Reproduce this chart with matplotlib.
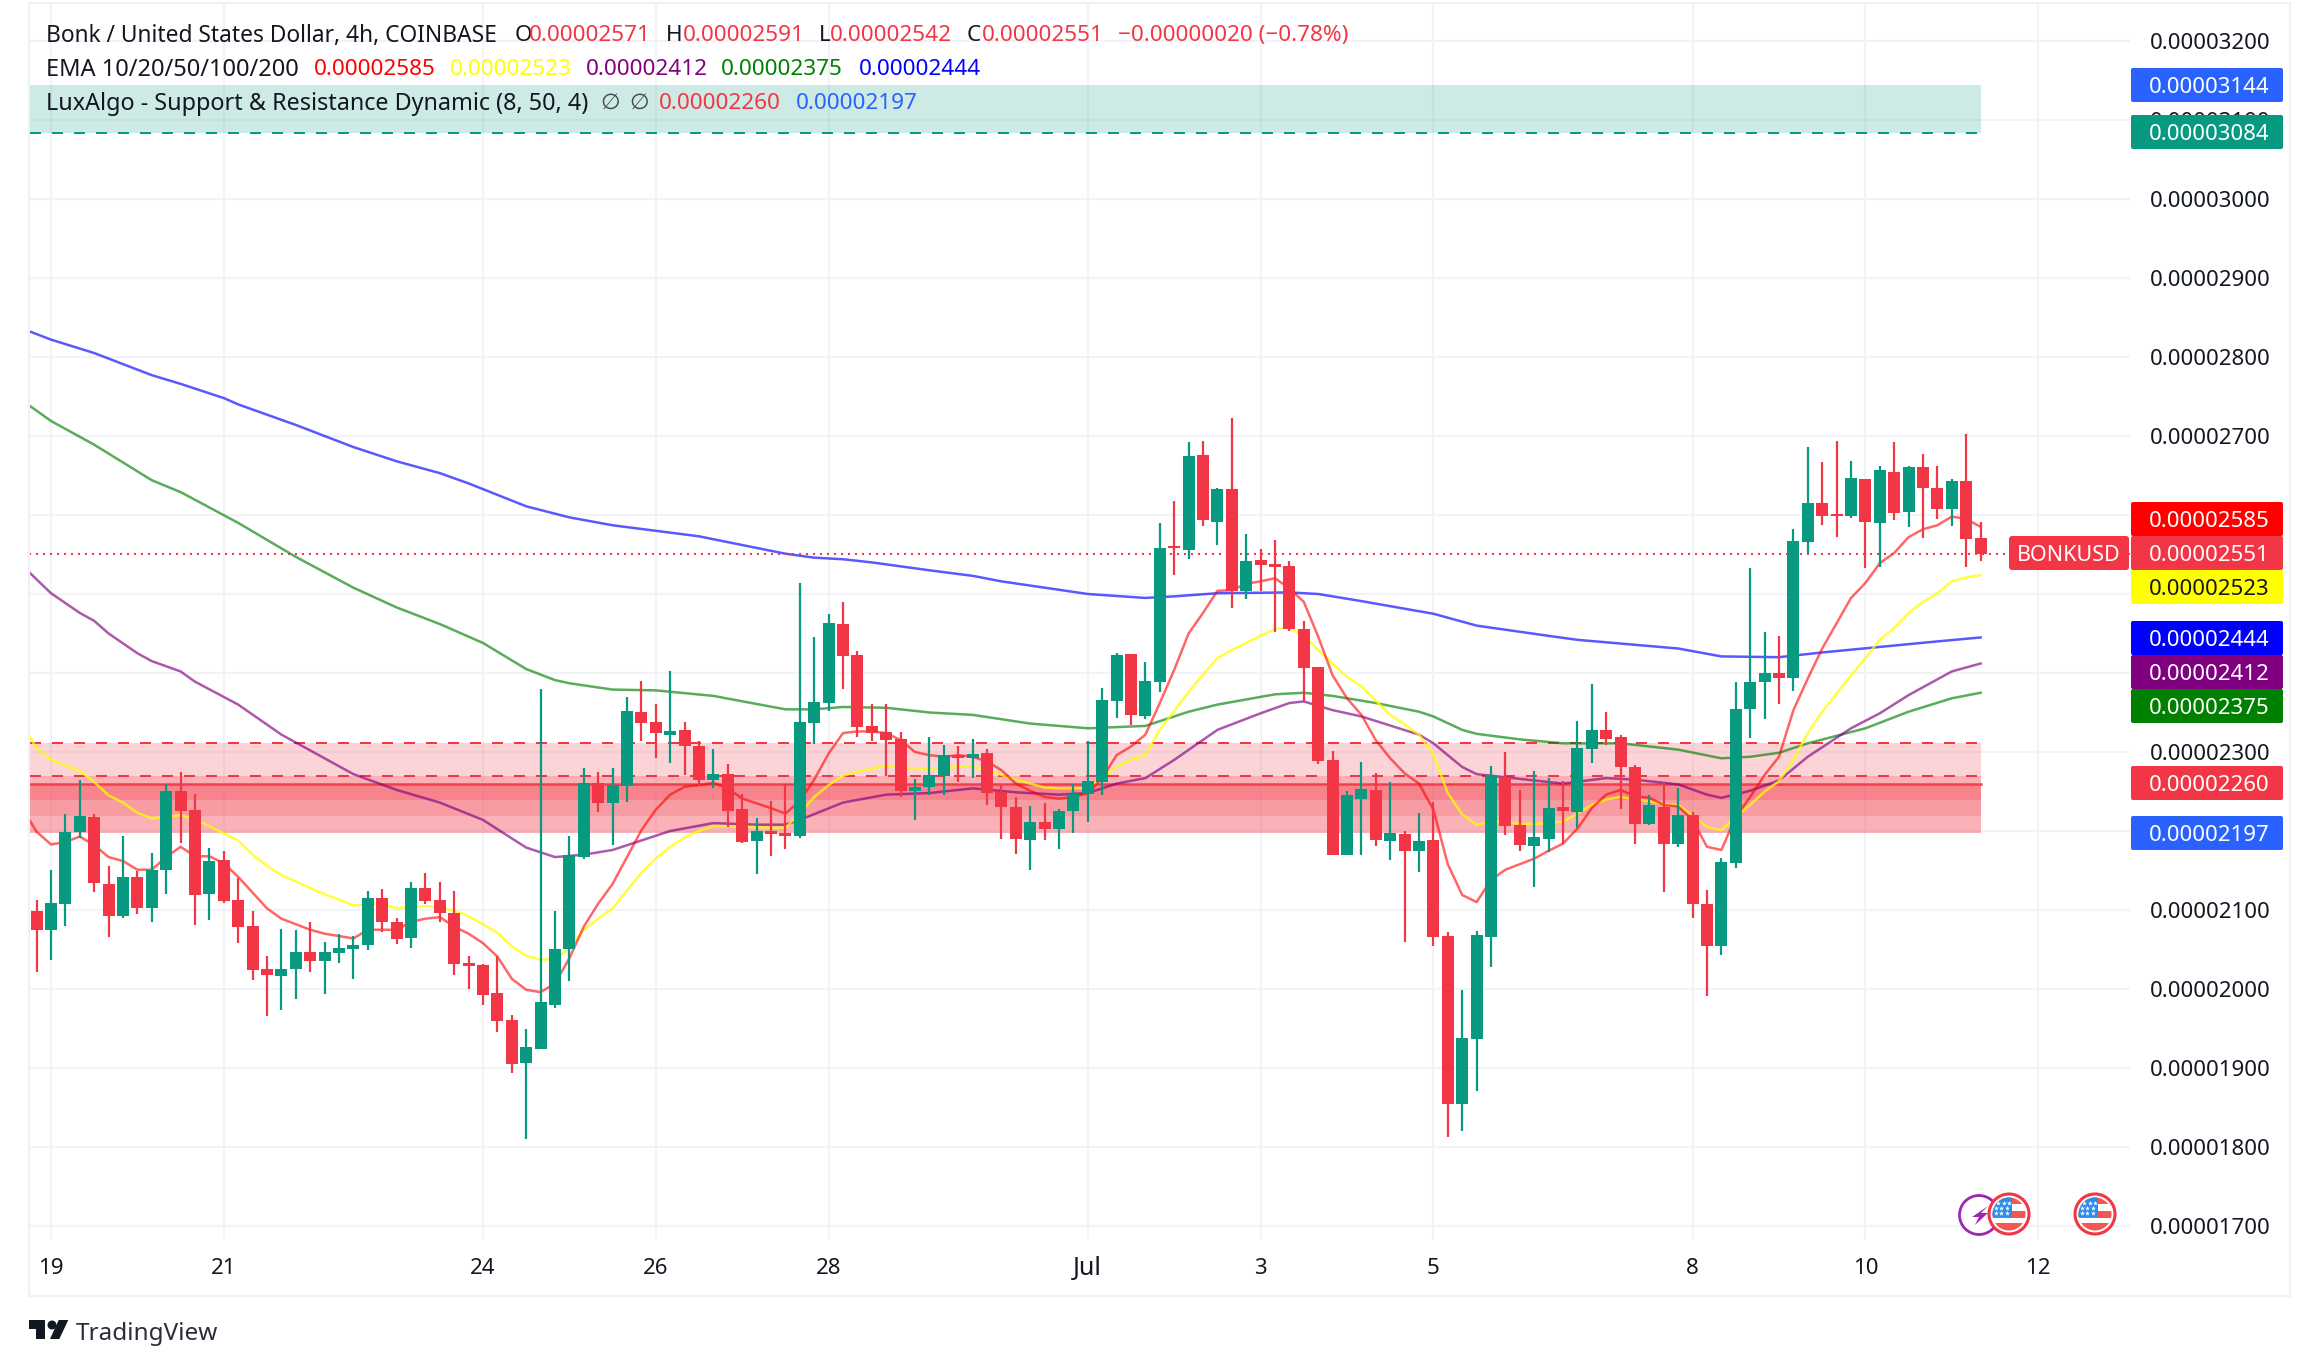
#encoding=utf-8
import numpy as np
import matplotlib
matplotlib.use('Agg')
import matplotlib.pyplot as plt
from matplotlib.patches import Rectangle, Circle, Polygon, FancyBboxPatch

plt.rcParams['font.family'] = ['Noto Sans', 'DejaVu Sans']

# candle values in units of 0.00000001, one per 4h bar, bar 0 = 19 June 00:00
first_bar = -1
opens = [2099, 2075, 2108, 2199, 2218, 2133, 2092, 2142, 2103, 2151,
         2251, 2227, 2120, 2163, 2113, 2080, 2025, 2016, 2025, 2047,
         2035, 2046, 2051, 2056, 2115, 2085, 2065, 2128, 2113, 2096,
         2033, 2030, 1995, 1961, 1906, 1924, 1980, 2051, 2167, 2261,
         2235, 2257, 2351, 2338, 2321, 2328, 2308, 2265, 2272, 2228,
         2187, 2200, 2197, 2194, 2337, 2362, 2462, 2423, 2333, 2325,
         2316, 2251, 2256, 2270, 2296, 2292, 2299, 2249, 2230, 2189,
         2212, 2202, 2225, 2247, 2262, 2365, 2424, 2346, 2389, 2561,
         2556, 2676, 2591, 2633, 2504, 2543, 2538, 2535, 2456, 2408,
         2290, 2170, 2241, 2252, 2187, 2196, 2175, 2189, 2067, 1854,
         1937, 2066, 2268, 2208, 2181, 2190, 2230, 2224, 2304, 2328,
         2319, 2281, 2209, 2230, 2184, 2220, 2108, 2055, 2160, 2354,
         2389, 2400, 2394, 2566, 2615, 2601, 2599, 2646, 2590, 2654,
         2604, 2661, 2634, 2608, 2643, 2571]
closes = [2075, 2109, 2199, 2219, 2134, 2092, 2142, 2103, 2151, 2251,
          2225, 2119, 2162, 2111, 2078, 2024, 2018, 2025, 2047, 2035,
          2047, 2052, 2056, 2115, 2085, 2063, 2128, 2111, 2096, 2032,
          2029, 1992, 1960, 1905, 1927, 1984, 2051, 2170, 2261, 2235,
          2258, 2352, 2337, 2324, 2327, 2308, 2265, 2272, 2225, 2186,
          2200, 2196, 2194, 2338, 2363, 2463, 2422, 2332, 2324, 2315,
          2251, 2256, 2271, 2296, 2292, 2297, 2248, 2230, 2190, 2211,
          2202, 2225, 2247, 2263, 2366, 2423, 2347, 2390, 2558, 2558,
          2675, 2594, 2633, 2504, 2542, 2537, 2534, 2456, 2406, 2289,
          2170, 2246, 2253, 2189, 2197, 2175, 2187, 2066, 1854, 1938,
          2068, 2271, 2206, 2182, 2192, 2229, 2225, 2305, 2328, 2317,
          2281, 2209, 2233, 2184, 2220, 2108, 2055, 2161, 2354, 2389,
          2400, 2394, 2567, 2615, 2599, 2599, 2647, 2591, 2657, 2603,
          2661, 2634, 2608, 2643, 2570, 2551]
highs = [2113, 2151, 2221, 2265, 2221, 2156, 2194, 2149, 2172, 2259,
         2275, 2247, 2178, 2175, 2141, 2099, 2042, 2076, 2075, 2085,
         2059, 2070, 2067, 2124, 2127, 2090, 2135, 2147, 2135, 2124,
         2042, 2032, 2042, 1967, 1949, 2380, 2099, 2194, 2280, 2275,
         2280, 2370, 2390, 2361, 2403, 2338, 2314, 2304, 2285, 2247,
         2216, 2238, 2259, 2514, 2446, 2475, 2490, 2428, 2361, 2361,
         2325, 2266, 2319, 2309, 2308, 2317, 2304, 2258, 2243, 2232,
         2235, 2228, 2260, 2314, 2381, 2425, 2424, 2414, 2590, 2618,
         2692, 2694, 2634, 2723, 2576, 2557, 2568, 2542, 2466, 2408,
         2301, 2251, 2287, 2273, 2262, 2200, 2223, 2237, 2072, 1999,
         2073, 2282, 2300, 2252, 2276, 2267, 2263, 2339, 2386, 2351,
         2322, 2284, 2246, 2261, 2254, 2224, 2125, 2166, 2389, 2533,
         2452, 2447, 2582, 2686, 2667, 2694, 2668, 2646, 2662, 2692,
         2662, 2677, 2662, 2646, 2703, 2591]
lows = [2021, 2037, 2080, 2191, 2123, 2066, 2090, 2095, 2085, 2120,
        2185, 2081, 2087, 2109, 2058, 2011, 1966, 1973, 1987, 2022,
        1994, 2033, 2013, 2049, 2072, 2057, 2052, 2108, 2085, 2018,
        2000, 1980, 1946, 1894, 1810, 1924, 1976, 2010, 2165, 2224,
        2182, 2237, 2314, 2292, 2286, 2271, 2257, 2254, 2205, 2185,
        2146, 2168, 2177, 2191, 2310, 2352, 2380, 2319, 2314, 2270,
        2243, 2214, 2246, 2246, 2262, 2267, 2233, 2190, 2171, 2151,
        2189, 2177, 2197, 2211, 2246, 2343, 2334, 2342, 2376, 2524,
        2544, 2586, 2562, 2482, 2494, 2504, 2452, 2453, 2363, 2285,
        2170, 2170, 2170, 2181, 2163, 2060, 2148, 2054, 1813, 1820,
        1871, 2028, 2195, 2175, 2129, 2174, 2184, 2204, 2286, 2309,
        2228, 2184, 2208, 2123, 2180, 2090, 1991, 2043, 2153, 2318,
        2342, 2361, 2377, 2552, 2587, 2572, 2596, 2533, 2534, 2594,
        2585, 2571, 2595, 2586, 2534, 2542]

# EMA lines at the bars where they bend
ema10_bars = list(range(-2, 135))
ema10 = [2229, 2199, 2183, 2186, 2193, 2182, 2167, 2162, 2151, 2151,
         2167, 2180, 2168, 2168, 2159, 2142, 2122, 2102, 2089, 2082,
         2075, 2070, 2067, 2064, 2075, 2075, 2075, 2085, 2089, 2091,
         2079, 2070, 2058, 2041, 2013, 1999, 1996, 2007, 2039, 2079,
         2108, 2133, 2167, 2201, 2227, 2246, 2256, 2258, 2261, 2254,
         2241, 2235, 2229, 2222, 2238, 2265, 2298, 2324, 2326, 2326,
         2324, 2315, 2300, 2296, 2294, 2296, 2294, 2288, 2277, 2260,
         2251, 2243, 2241, 2243, 2248, 2267, 2296, 2307, 2322, 2362,
         2404, 2450, 2476, 2504, 2505, 2513, 2516, 2520, 2507, 2490,
         2446, 2397, 2368, 2347, 2315, 2292, 2273, 2260, 2227, 2158,
         2119, 2110, 2138, 2151, 2158, 2165, 2175, 2184, 2203, 2229,
         2246, 2252, 2244, 2242, 2233, 2231, 2214, 2180, 2176, 2218,
         2243, 2271, 2294, 2353, 2393, 2431, 2463, 2495, 2514, 2539,
         2552, 2572, 2582, 2587, 2598, 2595, 2585]
ema20_bars = list(range(-2, 135))
ema20 = [2335, 2305, 2290, 2283, 2276, 2262, 2245, 2236, 2223, 2216,
         2218, 2220, 2215, 2206, 2197, 2188, 2170, 2156, 2144, 2136,
         2128, 2120, 2113, 2106, 2107, 2108, 2102, 2104, 2105, 2103,
         2099, 2092, 2082, 2071, 2054, 2042, 2037, 2038, 2051, 2075,
         2089, 2102, 2125, 2147, 2165, 2180, 2192, 2200, 2206, 2206,
         2205, 2205, 2204, 2204, 2222, 2243, 2258, 2270, 2275, 2279,
         2283, 2281, 2279, 2278, 2280, 2281, 2282, 2277, 2271, 2265,
         2260, 2255, 2254, 2254, 2254, 2267, 2281, 2290, 2296, 2328,
         2352, 2376, 2398, 2419, 2429, 2438, 2447, 2456, 2457, 2448,
         2429, 2412, 2395, 2383, 2365, 2347, 2335, 2322, 2297, 2248,
         2221, 2208, 2212, 2212, 2209, 2209, 2210, 2212, 2222, 2233,
         2240, 2243, 2240, 2238, 2234, 2233, 2220, 2205, 2201, 2218,
         2233, 2250, 2263, 2290, 2324, 2351, 2374, 2397, 2419, 2442,
         2457, 2476, 2490, 2501, 2516, 2521, 2524]
ema50_bars = [-2, 0, 2, 3, 4, 6, 7, 9, 10, 13, 16, 17, 21, 24, 27, 30, 33, 35, 37, 39,
              43, 46, 49, 51, 52, 55, 58, 61, 64, 67, 70, 72, 74, 76, 78, 81, 84, 86,
              87, 89, 91, 95, 96, 98, 99, 103, 105, 108, 110, 113, 115, 116, 118, 120,
              122, 125, 127, 129, 132, 134]
ema50 = [2536, 2501, 2476, 2466, 2450, 2425, 2415, 2402, 2389, 2360, 2322, 2312, 2272,
         2252, 2236, 2214, 2179, 2167, 2170, 2176, 2200, 2210, 2208, 2208, 2214, 2236,
         2246, 2248, 2254, 2249, 2246, 2248, 2260, 2267, 2290, 2328, 2349, 2362, 2364,
         2353, 2345, 2322, 2311, 2281, 2272, 2264, 2260, 2267, 2265, 2259, 2246, 2242,
         2251, 2264, 2294, 2330, 2349, 2372, 2402, 2412]
ema100_bars = [-2, 0, 3, 7, 9, 13, 17, 21, 24, 27, 30, 33, 35, 36, 39, 42, 46, 51, 53,
               55, 58, 61, 64, 68, 72, 76, 79, 81, 85, 87, 89, 92, 95, 96, 98, 99, 102,
               105, 109, 113, 116, 118, 120, 122, 126, 129, 132, 134]
ema100 = [2745, 2719, 2689, 2644, 2629, 2590, 2547, 2508, 2483, 2462, 2438, 2405, 2391,
          2387, 2379, 2378, 2371, 2354, 2354, 2357, 2356, 2350, 2347, 2336, 2330, 2333,
          2351, 2360, 2373, 2375, 2371, 2362, 2351, 2345, 2328, 2323, 2316, 2311, 2311,
          2303, 2292, 2294, 2299, 2311, 2330, 2351, 2368, 2375]
ema200_bars = [-2, 0, 3, 7, 9, 12, 13, 17, 21, 24, 27, 29, 33, 36, 39, 45, 51, 53, 55,
               57, 61, 64, 66, 72, 76, 78, 81, 86, 88, 91, 96, 99, 104, 106, 113, 116,
               120, 123, 127, 131, 134]
ema200 = [2836, 2822, 2805, 2777, 2766, 2748, 2740, 2714, 2686, 2668, 2653, 2640, 2611,
          2597, 2587, 2573, 2551, 2546, 2544, 2540, 2530, 2523, 2516, 2500, 2495, 2497,
          2501, 2502, 2500, 2491, 2475, 2460, 2447, 2442, 2431, 2421, 2420, 2426, 2433,
          2440, 2445]

# support / resistance zones
resist_top, resist_bottom = 3144, 3084
support_edges = [2312, 2270, 2260, 2239, 2219, 2197]
support_alpha = [0.21, 0.39, 0.61, 0.49, 0.38]
zone_end_bar = 134
last_close = 2551

price_ticks = list(range(1700, 3300, 100))
hidden_ticks = [2200, 2400, 2500, 2600]  # sit behind the value boxes
day_ticks = [0, 12, 30, 42, 54, 72, 84, 96, 114, 126, 138]
day_labels = ['19', '21', '24', '26', '28', 'Jul', '3', '5', '8', '10', '12']

label_values = ['0.00003144', '0.00003084', '0.00002585', '0.00002551', '0.00002523',
                '0.00002444', '0.00002412', '0.00002375', '0.00002260', '0.00002197']
label_colors = ['#2962FF', '#089981', '#FF0000', '#F23645', '#FFFF00',
                '#0000FF', '#800080', '#008000', '#F23645', '#2962FF']
label_text_colors = ['white', 'white', 'white', 'white', '#131722',
                     'white', 'white', 'white', 'white', 'white']
label_y_px = [85, 132, 519, 553, 587, 638, 672, 706, 783, 833]

up_color = '#089981'
down_color = '#F23645'
text_color = '#131722'
grid_color = '#F2F3F6'
W, H = 2311, 1366

fig = plt.figure(figsize=(W / 100., H / 100.), dpi=100, facecolor='white')
# chart pane in pixels: x 29-2130, y 3-1239
ax = fig.add_axes([29. / W, 1 - 1239. / H, (2130 - 29.) / W, (1239 - 3.) / H])
ax.set_xlim((29 - 51) / 14.4, (2130 - 51) / 14.4)
ax.set_ylim(2700 + (436 - 1239) / 0.79, 2700 + (436 - 3) / 0.79)
for s in ax.spines.values():
    s.set_visible(False)

ax.yaxis.tick_right()
ax.set_yticks(price_ticks)
ax.set_yticklabels(['' if p in hidden_ticks else '%.8f' % (p * 1e-8) for p in price_ticks],
                   fontsize=16, color=text_color)
ax.set_xticks(day_ticks)
ax.set_xticklabels(day_labels, fontsize=16, color=text_color)
ax.tick_params(axis='y', length=0, pad=14)
ax.tick_params(axis='x', length=0, pad=21)
for lab in ax.get_xticklabels():
    lab.set_verticalalignment('center')
ax.get_xticklabels()[5].set_fontsize(18)
ax.get_xticklabels()[5].set_fontweight('medium')
ax.grid(True, color=grid_color, lw=1.5, zorder=1)
ax.set_axisbelow(True)

# zones
zone_x = [-3, zone_end_bar]
ax.fill_between(zone_x, resist_bottom, resist_top, color=up_color, alpha=0.2, lw=0, zorder=1.7)
for i in range(len(support_alpha)):
    ax.fill_between(zone_x, support_edges[i + 1], support_edges[i], color=down_color,
                    alpha=support_alpha[i], lw=0, zorder=1.7)
ax.plot(zone_x, [resist_bottom] * 2, color=up_color, lw=1.44, ls=(0, (5.5, 5.5)), zorder=1.8)
ax.plot(zone_x, [support_edges[0]] * 2, color=down_color, lw=1.44, ls=(0, (5.5, 5.5)), zorder=1.8)
ax.plot(zone_x, [support_edges[1]] * 2, color=down_color, lw=1.44, ls=(0, (5.5, 5.5)), zorder=1.8)
ax.plot(zone_x, [support_edges[2]] * 2, color=down_color, lw=1.8, alpha=0.9, zorder=1.8)

# ema lines go under the candles
ax.plot(ema200_bars, ema200, color='#0000FF', lw=1.8, alpha=0.65, zorder=2)
ax.plot(ema100_bars, ema100, color='#008000', lw=1.8, alpha=0.65, zorder=2)
ax.plot(ema50_bars, ema50, color='#800080', lw=1.8, alpha=0.65, zorder=2)
ax.plot(ema20_bars, ema20, color='#FFFF00', lw=1.8, alpha=0.75, zorder=2)
ax.plot(ema10_bars, ema10, color='#FF0000', lw=1.8, alpha=0.6, zorder=2)

ax.axhline(last_close, color=down_color, lw=1.44, ls=(0, (1, 2.5)), zorder=2.2)

# candles
o = np.array(opens)
c = np.array(closes)
bars = np.arange(first_bar, first_bar + len(o))
colors = np.where(c >= o, up_color, down_color)
ax.vlines(bars, lows, highs, colors=colors, lw=1.6, zorder=3)
ax.bar(bars, np.abs(c - o), bottom=np.minimum(o, c), width=0.83, color=colors, lw=0, zorder=3.1)

# overlay in pixel coordinates for the frame, labels, legend and logo
ov = fig.add_axes([0, 0, 1, 1], zorder=10)
ov.set_xlim(0, W)
ov.set_ylim(H, 0)
ov.axis('off')
ov.add_patch(Rectangle((29, 3), 2290 - 29, 1296 - 3, fill=False, ec='#F0F1F6', lw=1.5))

for v, col, tcol, y in zip(label_values, label_colors, label_text_colors, label_y_px):
    ov.add_patch(FancyBboxPatch((2131, y - 17), 152, 34, boxstyle='round,pad=0,rounding_size=2',
                                fc=col, ec='none'))
    ov.text(2149, y, v, color=tcol, fontsize=16, va='center_baseline', ha='left')
ov.add_patch(FancyBboxPatch((2009, 536), 120, 34, boxstyle='round,pad=0,rounding_size=3',
                            fc=down_color, ec='none'))
ov.text(2069, 553, 'BONKUSD', color='white', fontsize=15.5, va='center_baseline', ha='center')

# legend rows
def legend_text(x, y, s, col=text_color, size=16.2):
    ov.text(x, y, s, color=col, fontsize=size, va='center_baseline', ha='left')

legend_text(46, 33, 'Bonk / United States Dollar, 4h, COINBASE', size=16.4)
for x, s in zip([515, 666, 819, 967], 'OHLC'):
    legend_text(x, 33, s)
for x, s in zip([529, 683, 830, 982], ['0.00002571', '0.00002591', '0.00002542', '0.00002551']):
    legend_text(x, 33, s, down_color)
legend_text(1118, 33, '\u22120.00000020 (\u22120.78%)', down_color)
legend_text(46, 67, 'EMA 10/20/50/100/200', size=17)
for x, s, col in zip([314, 450, 586, 721, 859],
                     ['0.00002585', '0.00002523', '0.00002412', '0.00002375', '0.00002444'],
                     ['#FF0000', '#FFFF00', '#800080', '#008000', '#0000FF']):
    legend_text(x, 67, s, col)
legend_text(46, 101, 'LuxAlgo - Support & Resistance Dynamic (8, 50, 4)', size=16.8)
legend_text(600, 101, '\u2205', '#434651')
legend_text(629, 101, '\u2205', '#434651')
legend_text(659, 101, '0.00002260', down_color)
legend_text(796, 101, '0.00002197', '#2962FF')

# tradingview logo
logo = '#131722'
ov.add_patch(Polygon([(29, 1320), (45, 1320), (45, 1339), (36, 1339), (36, 1329), (29, 1329)], fc=logo, ec='none'))
ov.add_patch(Circle((52, 1325), 4.5, fc=logo, ec='none'))
ov.add_patch(Polygon([(68.3, 1320), (59.3, 1339), (50, 1339), (58.7, 1320)], fc=logo, ec='none'))
ov.text(76, 1331, 'TradingView', color='#2A2E39', fontsize=17.5, va='center_baseline', ha='left')

# event icons
def flag(cx, cy):
    ov.add_patch(Circle((cx, cy), 20, fc='white', ec=down_color, lw=2.2, zorder=5))
    clip = Circle((cx, cy), 16.5, transform=ov.transData)
    for y0, y1 in [(-17, -10), (-3.5, 3.5), (9, 17)]:
        r = ov.add_patch(Rectangle((cx - 17, cy + y0), 34, y1 - y0, fc='#F4574F', ec='none', zorder=5.1))
        r.set_clip_path(clip)
    r = ov.add_patch(Rectangle((cx - 17, cy - 17), 20, 20, fc='#2F8BEA', ec='none', zorder=5.2))
    r.set_clip_path(clip)
    sx = [cx - 11, cx - 5, cx + 0, cx - 13, cx - 8, cx - 2, cx - 13, cx - 8, cx - 2]
    sy = [cy - 11, cy - 11, cy - 11, cy - 6, cy - 6, cy - 6, cy - 1, cy - 1, cy - 1]
    ov.scatter(sx, sy, marker='*', s=14, c='white', lw=0, zorder=5.3)

ov.add_patch(Circle((1979, 1215), 19.5, fc='white', ec='#9C27B0', lw=2, zorder=4.5))
ov.add_patch(Polygon([(1988, 1206), (1972, 1217), (1979, 1217), (1975, 1225), (1988, 1213), (1981, 1213)],
                     fc='#9C27B0', ec='none', zorder=4.6))
flag(2009, 1214)
flag(2095, 1214)

fig.savefig('out.png', dpi=100, facecolor='white')
